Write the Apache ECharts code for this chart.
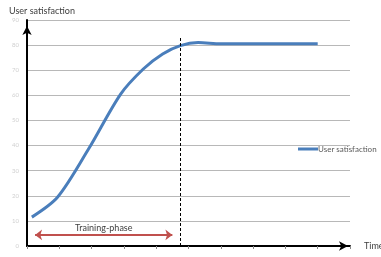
<!DOCTYPE html>
<html>
<head>
<meta charset="utf-8">
<script src="https://cdn.jsdelivr.net/npm/echarts@6/dist/echarts.min.js"></script>
<style>
  html, body { margin: 0; padding: 0; background: #fff; }
  #main { width: 381px; height: 257px; }
</style>
</head>
<body>
<div id="main"></div>
<script>
// time (tick units) and satisfaction
var timePoints = [0.15, 0.95, 1.9, 2.9, 3.6, 4.2, 4.75, 5.3, 6.0, 7.0, 8.0, 9.0];
var satisfaction = [11.5, 19.5, 38.5, 60.5, 70.5, 76.5, 79.8, 81, 80.5, 80.5, 80.5, 80.5];
var yTicks = [0, 10, 20, 30, 40, 50, 60, 70, 80, 90];
var phaseEnd = 4.74;
var trainingFrom = 0.25, trainingTo = 4.5, trainingLevel = 4.4;
var seriesName = 'User satisfaction';

var font = 'Lato';
var myChart = echarts.init(document.getElementById('main'));

var lineData = [];
for (var i = 0; i < timePoints.length; i++) {
    lineData.push([timePoints[i], satisfaction[i]]);
}

myChart.setOption({
    animation: false,
    textStyle: { fontFamily: font },
    grid: { left: 27, right: 31, top: 20, bottom: 11, containLabel: false, outerBoundsMode: 'none' },
    legend: {
        data: [seriesName],
        left: 293, top: 140,
        itemWidth: 20, itemHeight: 3, itemGap: 0,
        icon: 'rect',
        textStyle: { fontSize: 8, color: '#595959', padding: [0, 0, 0, -5] }
    },
    xAxis: {
        type: 'value', min: 0, max: 10, interval: 1,
        name: 'Time', nameGap: 14,
        nameTextStyle: { fontSize: 9, color: '#404040', verticalAlign: 'middle' },
        axisLine: { lineStyle: { color: '#000', width: 2 }, symbol: ['none', 'arrow'], symbolSize: [7, 9], symbolOffset: [0, -2] },
        axisTick: { show: true, length: 3, lineStyle: { color: '#888' } },
        axisLabel: { show: false },
        splitLine: { show: false }
    },
    yAxis: {
        type: 'value', min: yTicks[0], max: yTicks[yTicks.length - 1], interval: 10,
        name: 'User satisfaction', nameLocation: 'end', nameGap: 4,
        nameTextStyle: { fontSize: 9, color: '#404040', align: 'left', padding: [0, 0, 0, -18] },
        axisLine: { show: true, lineStyle: { color: '#000', width: 2 }, symbol: ['none', 'arrow'], symbolSize: [7, 9], symbolOffset: [-11, -6] },
        axisTick: { show: false },
        axisLabel: { fontSize: 6, color: '#d0d0d0', margin: 8 },
        splitLine: { lineStyle: { color: '#b8b8b8', width: 1 } }
    },
    series: [{
        name: seriesName,
        type: 'line',
        data: lineData,
        smooth: 0.3,
        showSymbol: false,
        lineStyle: { color: '#4a7ebb', width: 3 },
        itemStyle: { color: '#4a7ebb' },
        markLine: {
            silent: true,
            symbol: 'none',
            data: [
                [
                    { coord: [phaseEnd, 0], lineStyle: { color: '#000', type: [3, 2], width: 1 }, label: { show: false } },
                    { coord: [phaseEnd, 83] }
                ],
                [
                    {
                        coord: [trainingFrom, trainingLevel],
                        symbol: 'arrow', symbolSize: [8, 7],
                        lineStyle: { color: '#c0504d', type: 'solid', width: 2 },
                        label: { show: true, position: 'middle', formatter: 'Training-phase', fontSize: 9, color: '#404040', fontFamily: font, distance: 2 }
                    },
                    { coord: [trainingTo, trainingLevel], symbol: 'arrow', symbolSize: [8, 7] }
                ]
            ]
        }
    }]
});
</script>
</body>
</html>
